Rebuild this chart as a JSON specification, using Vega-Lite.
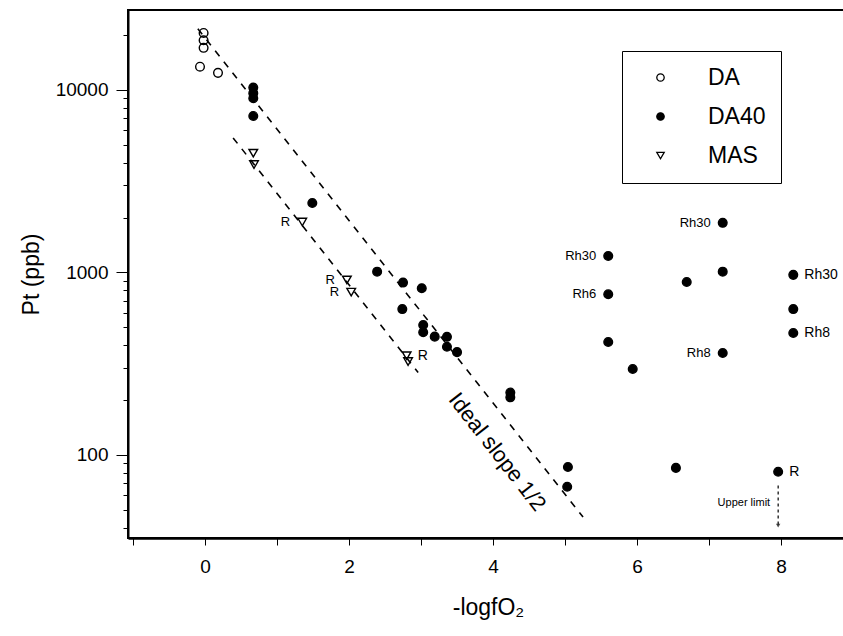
{
  "$schema": "https://vega.github.io/schema/vega-lite/v6.json",
  "width": 720,
  "height": 528,
  "autosize": "none",
  "padding": {"left": 128, "top": 10, "right": 0, "bottom": 98},
  "background": "white",
  "config": {
    "font": "Liberation Sans",
    "view": {"stroke": "black", "strokeWidth": 2},
    "axis": {"grid": false, "domainColor": "black", "tickColor": "black", "labelColor": "black", "titleColor": "black", "titleFontWeight": "normal", "labelFont": "Liberation Sans", "titleFont": "Liberation Sans"},
    "legend": {"title": null, "orient": "none", "legendX": 494, "legendY": 41, "padding": 15, "rowPadding": 15, "labelFontSize": 23, "labelFont": "Liberation Sans", "labelColor": "black", "symbolOffset": 12, "labelOffset": 36, "strokeColor": "black", "symbolSize": 55, "symbolStrokeWidth": 1.3}
  },
  "datasets": {
    "pts": [
      {"series": "DA", "x": -0.02, "y": 20500, "label": ""},
      {"series": "DA", "x": -0.02, "y": 18700, "label": ""},
      {"series": "DA", "x": -0.02, "y": 17000, "label": ""},
      {"series": "DA", "x": -0.07, "y": 13400, "label": ""},
      {"series": "DA", "x": 0.18, "y": 12400, "label": ""},
      {"series": "DA40", "x": 0.67, "y": 10300, "label": ""},
      {"series": "DA40", "x": 0.67, "y": 9600, "label": ""},
      {"series": "DA40", "x": 0.67, "y": 9000, "label": ""},
      {"series": "DA40", "x": 0.67, "y": 7200, "label": ""},
      {"series": "DA40", "x": 1.49, "y": 2400, "label": ""},
      {"series": "DA40", "x": 2.39, "y": 1010, "label": ""},
      {"series": "DA40", "x": 2.75, "y": 880, "label": ""},
      {"series": "DA40", "x": 3.01, "y": 820, "label": ""},
      {"series": "DA40", "x": 2.74, "y": 630, "label": ""},
      {"series": "DA40", "x": 3.03, "y": 515, "label": ""},
      {"series": "DA40", "x": 3.03, "y": 470, "label": ""},
      {"series": "DA40", "x": 3.19, "y": 445, "label": ""},
      {"series": "DA40", "x": 3.36, "y": 444, "label": ""},
      {"series": "DA40", "x": 3.36, "y": 392, "label": ""},
      {"series": "DA40", "x": 3.5, "y": 366, "label": ""},
      {"series": "DA40", "x": 4.24, "y": 220, "label": ""},
      {"series": "DA40", "x": 4.24, "y": 207, "label": ""},
      {"series": "DA40", "x": 5.04, "y": 86, "label": ""},
      {"series": "DA40", "x": 5.03, "y": 67, "label": ""},
      {"series": "DA40", "x": 5.6, "y": 1230, "label": "Rh30"},
      {"series": "DA40", "x": 5.6, "y": 760, "label": "Rh6"},
      {"series": "DA40", "x": 5.6, "y": 416, "label": ""},
      {"series": "DA40", "x": 5.94, "y": 296, "label": ""},
      {"series": "DA40", "x": 6.54, "y": 85, "label": ""},
      {"series": "DA40", "x": 6.69, "y": 887, "label": ""},
      {"series": "DA40", "x": 7.19, "y": 1870, "label": "Rh30"},
      {"series": "DA40", "x": 7.19, "y": 1010, "label": ""},
      {"series": "DA40", "x": 7.19, "y": 362, "label": "Rh8"},
      {"series": "DA40", "x": 7.96, "y": 81, "label": "R"},
      {"series": "DA40", "x": 8.17, "y": 970, "label": "Rh30"},
      {"series": "DA40", "x": 8.17, "y": 630, "label": ""},
      {"series": "DA40", "x": 8.17, "y": 466, "label": "Rh8"},
      {"series": "MAS", "x": 0.67, "y": 4500, "label": ""},
      {"series": "MAS", "x": 0.68, "y": 3900, "label": ""},
      {"series": "MAS", "x": 1.35, "y": 1890, "label": "R"},
      {"series": "MAS", "x": 1.97, "y": 910, "label": "R"},
      {"series": "MAS", "x": 2.03, "y": 780, "label": "R"},
      {"series": "MAS", "x": 2.8, "y": 350, "label": "R"},
      {"series": "MAS", "x": 2.82, "y": 325, "label": ""}
    ],
    "lines": [
      {"line": "upper", "x": -0.1, "y": 21600},
      {"line": "upper", "x": 5.25, "y": 45.7},
      {"line": "lower", "x": 0.39, "y": 5460},
      {"line": "lower", "x": 2.96, "y": 283}
    ],
    "limit": [
      {"x": 7.96, "y": 68, "y2": 41}
    ],
    "notes": [
      {"text": "Ideal slope 1/2", "x": 4.06, "y": 104}
    ],
    "limitText": [
      {"text": "Upper limit", "x": 7.96, "y": 54.6}
    ]
  },
  "layer": [
    {
      "data": {"name": "lines"},
      "mark": {"type": "line", "color": "black", "strokeWidth": 1.6, "strokeDash": [7, 7]},
      "encoding": {
        "x": {"field": "x", "type": "quantitative", "scale": {"domain": [-1.07, 8.93], "nice": false, "zero": false},
          "axis": {"values": [-1, 0, 1, 2, 3, 4, 5, 6, 7, 8], "format": "d", "labelExpr": "datum.value % 2 == 0 ? datum.label : ''", "tickSize": 7, "labelPadding": 12, "labelFontSize": 19, "domainWidth": 2.5, "title": "-logfO₂", "titleFontSize": 23, "titlePadding": 20}},
        "y": {"field": "y", "type": "quantitative", "scale": {"type": "log", "domain": [35.1, 27400], "nice": false},
          "axis": {"values": [40, 50, 60, 70, 80, 90, 100, 200, 300, 400, 500, 600, 700, 800, 900, 1000, 2000, 3000, 4000, 5000, 6000, 7000, 8000, 9000, 10000, 20000], "format": "d", "labelExpr": "(datum.value == 100 || datum.value == 1000 || datum.value == 10000) ? datum.label : ''", "tickSize": {"condition": {"test": "datum.value == 100 || datum.value == 1000 || datum.value == 10000", "value": 12}, "value": 5}, "labelPadding": 8, "labelFontSize": 19, "domainWidth": 2, "title": "Pt (ppb)", "titleFontSize": 23, "titlePadding": 12}},
        "detail": {"field": "line"}
      }
    },
    {
      "data": {"name": "pts"},
      "mark": {"type": "point", "strokeWidth": 1.4, "opacity": 1},
      "encoding": {
        "x": {"field": "x", "type": "quantitative"},
        "y": {"field": "y", "type": "quantitative"},
        "shape": {"field": "series", "type": "nominal", "scale": {"domain": ["DA", "DA40", "MAS"], "range": ["circle", "circle", "triangle-down"]}},
        "fill": {"field": "series", "type": "nominal", "scale": {"domain": ["DA", "DA40", "MAS"], "range": ["transparent", "black", "transparent"]}},
        "stroke": {"field": "series", "type": "nominal", "scale": {"domain": ["DA", "DA40", "MAS"], "range": ["black", "black", "black"]}},
        "size": {"value": 75}
      }
    },
    {
      "data": {"name": "pts"},
      "transform": [{"filter": "datum.label != '' && !(datum.x > 7.5 || (datum.series == 'MAS' && datum.x > 2.5))"}],
      "mark": {"type": "text", "align": "right", "baseline": "middle", "dx": -12, "fontSize": 13, "font": "Liberation Sans", "color": "black"},
      "encoding": {
        "x": {"field": "x", "type": "quantitative"},
        "y": {"field": "y", "type": "quantitative"},
        "text": {"field": "label"}
      }
    },
    {
      "data": {"name": "pts"},
      "transform": [{"filter": "datum.label != '' && (datum.x > 7.5 || (datum.series == 'MAS' && datum.x > 2.5))"}],
      "mark": {"type": "text", "align": "left", "baseline": "middle", "dx": 11, "fontSize": 14, "font": "Liberation Sans", "color": "black"},
      "encoding": {
        "x": {"field": "x", "type": "quantitative"},
        "y": {"field": "y", "type": "quantitative"},
        "text": {"field": "label"}
      }
    },
    {
      "data": {"name": "notes"},
      "mark": {"type": "text", "angle": 52, "align": "center", "baseline": "middle", "fontSize": 22, "font": "Liberation Sans", "color": "black"},
      "encoding": {
        "x": {"field": "x", "type": "quantitative"},
        "y": {"field": "y", "type": "quantitative"},
        "text": {"field": "text"}
      }
    },
    {
      "data": {"name": "limit"},
      "mark": {"type": "rule", "color": "black", "strokeWidth": 1.2, "strokeDash": [3, 3]},
      "encoding": {
        "x": {"field": "x", "type": "quantitative"},
        "y": {"field": "y", "type": "quantitative"},
        "y2": {"field": "y2"}
      }
    },
    {
      "data": {"name": "limit"},
      "mark": {"type": "point", "shape": "triangle-down", "filled": true, "color": "black", "size": 20},
      "encoding": {
        "x": {"field": "x", "type": "quantitative"},
        "y": {"field": "y2", "type": "quantitative"}
      }
    },
    {
      "data": {"name": "limitText"},
      "mark": {"type": "text", "align": "right", "baseline": "middle", "dx": -8, "fontSize": 11, "font": "Liberation Sans", "color": "black"},
      "encoding": {
        "x": {"field": "x", "type": "quantitative"},
        "y": {"field": "y", "type": "quantitative"},
        "text": {"field": "text"}
      }
    }
  ]
}
